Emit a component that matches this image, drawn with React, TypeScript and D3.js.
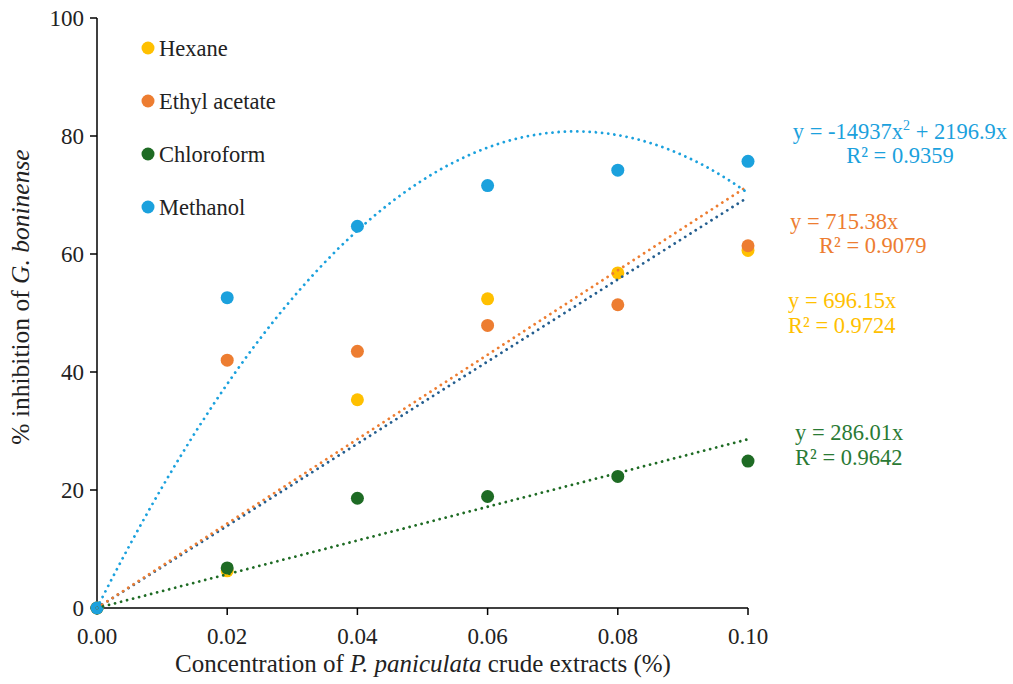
import React from "react";
import * as d3 from "d3";

const xValues = [0, 0.02, 0.04, 0.06, 0.08, 0.1];
const hexane = [0, 6.3, 35.3, 52.4, 56.8, 60.6];
const ethylAcetate = [0, 42.0, 43.5, 47.9, 51.4, 61.4];
const chloroform = [0, 6.8, 18.6, 18.9, 22.3, 24.9];
const methanol = [0, 52.6, 64.7, 71.6, 74.2, 75.7];

const xTicks = [0, 0.02, 0.04, 0.06, 0.08, 0.1];
const yTicks = [0, 20, 40, 60, 80, 100];

const seriesNames = ["Hexane", "Ethyl acetate", "Chloroform", "Methanol"];
const seriesColors = ["#FFC000", "#ED7D31", "#1E6B24", "#1BA1DD"];
const trendColors = ["#245E8F", "#ED7D31", "#1E6B24", "#1BA1DD"];
const labelColors = ["#FFC000", "#ED7D31", "#2A7A34", "#1BA1DD"];
// trendline coefficients: y = a*x^2 + b*x
const trendA = [0, 0, 0, -14937];
const trendB = [696.15, 715.38, 286.01, 2196.9];
const labelLine1 = ["y = 696.15x", "y = 715.38x", "y = 286.01x", "y = -14937x"];
const labelLine2 = ["R² = 0.9724", "R² = 0.9079", "R² = 0.9642", "R² = 0.9359"];

const W = 1013;
const H = 684;
const FONT = "'Liberation Serif', 'Times New Roman', serif";

export default function App() {
  const x = d3.scaleLinear().domain([0, 0.1]).range([97, 748]);
  const y = d3.scaleLinear().domain([0, 100]).range([608, 18]);
  const series = [hexane, ethylAcetate, chloroform, methanol];

  const trendPath = (k: number) => {
    const xs = d3.range(0, 101).map((i) => (i / 100) * 0.1);
    return d3
      .line<number>()
      .x((d) => x(d))
      .y((d) => y(trendA[k] * d * d + trendB[k] * d))(xs) as string;
  };

  const LF = 22.5;
  const labelPos = [
    { x1: 788, y1: 308, x2: 788, y2: 333, anchor: "start" },
    { x1: 790, y1: 229, x2: 819, y2: 253, anchor: "start" },
    { x1: 795, y1: 440, x2: 795, y2: 465, anchor: "start" },
    { x1: 900, y1: 139, x2: 900, y2: 163, anchor: "middle" },
  ];

  return (
    <svg
      width={W}
      height={H}
      style={{ position: "absolute", left: 0, top: 0, background: "#fff" }}
      fontFamily={FONT}
    >
      <rect x={0} y={0} width={W} height={H} fill="#fff" />
      <line x1={97} x2={97} y1={y(100)} y2={y(0)} stroke="#000" strokeWidth={1.5} />
      <line x1={97} x2={748} y1={y(0)} y2={y(0)} stroke="#000" strokeWidth={1.5} />
      {yTicks.map((t) => (
        <g key={"y" + t}>
          <line x1={90} x2={97} y1={y(t)} y2={y(t)} stroke="#000" strokeWidth={1.5} />
          <text x={84} y={y(t)} dy="0.35em" textAnchor="end" fontSize={23} fill="#222">
            {t}
          </text>
        </g>
      ))}
      {xTicks.map((t) => (
        <g key={"x" + t}>
          <line x1={x(t)} x2={x(t)} y1={y(0)} y2={y(0) + 7} stroke="#000" strokeWidth={1.5} />
          <text x={x(t)} y={y(0) + 36} textAnchor="middle" fontSize={23} fill="#222">
            {t.toFixed(2)}
          </text>
        </g>
      ))}
      <text x={423} y={672} textAnchor="middle" fontSize={25} fill="#222">
        Concentration of <tspan fontStyle="italic">P. paniculata</tspan> crude extracts (%)
      </text>
      <text
        transform={`translate(29, 297) rotate(-90)`}
        textAnchor="middle"
        fontSize={25.5}
        fill="#222"
      >
        % inhibition of <tspan fontStyle="italic">G. boninense</tspan>
      </text>

      {series.map((s, k) => (
        <g key={"s" + k}>
          {s.map((v, i) => (
            <circle key={i} cx={x(xValues[i])} cy={y(v)} r={6.5} fill={seriesColors[k]} />
          ))}
        </g>
      ))}

      {series.map((s, k) => (
        <path
          key={"t" + k}
          d={trendPath(k)}
          fill="none"
          stroke={trendColors[k]}
          strokeWidth={2.8}
          strokeLinecap="round"
          strokeDasharray="0.01 6.2"
        />
      ))}

      {labelPos.map((p, k) => (
        <g key={"l" + k} fill={labelColors[k]} fontSize={LF}>
          <text x={p.x1} y={p.y1} textAnchor={p.anchor}>
            {labelLine1[k]}
            {k === 3 ? (
              <>
                <tspan fontSize={14} dy={-9}>2</tspan>
                <tspan dy={9}> + 2196.9x</tspan>
              </>
            ) : null}
          </text>
          <text x={p.x2} y={p.y2} textAnchor={p.anchor}>
            {labelLine2[k]}
          </text>
        </g>
      ))}

      {seriesNames.map((n, k) => (
        <g key={"lg" + k}>
          <circle cx={148} cy={48 + k * 53} r={6.5} fill={seriesColors[k]} />
          <text x={159} y={48 + k * 53} dy="0.35em" fontSize={22.5} fill="#222">
            {n}
          </text>
        </g>
      ))}
    </svg>
  );
}
